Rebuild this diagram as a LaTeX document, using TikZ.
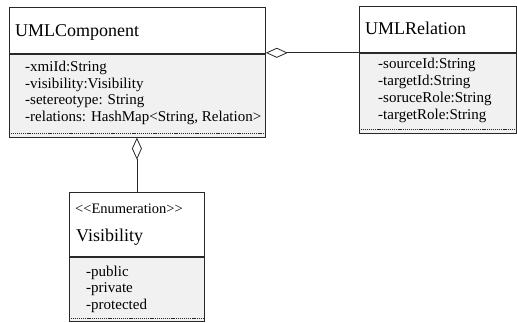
\documentclass[tikz,border=0pt]{standalone}
\usepackage{fontspec}
\setmainfont{Liberation Serif}
\usepackage{xcolor}
\usetikzlibrary{arrows.meta}
\usetikzlibrary{calc}
\usetikzlibrary{positioning}

\definecolor{bodyfill}{RGB}{241,241,241}
\definecolor{edge}{RGB}{40,40,40}

\newcommand{\titlefont}{\fontsize{18}{20}\selectfont}
\newcommand{\attrfont}{\fontsize{15}{17}\selectfont}
\newcommand{\stereofont}{\fontsize{14.5}{16}\selectfont}

\begin{document}
\begin{tikzpicture}[x=1pt, y=-1pt,
					headbox/.style={draw=edge, line width=0.8pt, fill=white, anchor=north west, inner sep=0pt},
					bodybox/.style={draw=edge, line width=0.8pt, fill=bodyfill, anchor=north west, inner sep=0pt},
					title/.style={anchor=base west, inner sep=0pt, font=\titlefont},
					attr/.style={anchor=base west, inner sep=0pt, font=\attrfont},
					dots/.style={line width=0.4pt, draw=edge, dash pattern=on 1.2pt off 0.9pt},
					aggr/.style={line width=0.8pt, draw=edge, -{Diamond[fill=white, length=22pt, width=10pt]}},
				]
			        \useasboundingbox (0,0) rectangle (517,322);

			        % UMLComponent
			        \node[headbox, minimum width=256pt, minimum height=46pt] (comp) at (9,7) {};
			        \node[bodybox, minimum width=256pt, minimum height=83pt] (compbody) at (comp.south west) {};
			        \node[title] (comptitle) at ($(comp.north west)+(6,29)$) {UMLComponent};
			        \foreach \t [count=\i] in {-xmiId:String, -visibility:Visibility, -setereotype: String, {-relations: HashMap{<}String, Relation{>}}}
			            \node[attr] (compattr\i) at ($(compbody.north west)+(16,1+16.6*\i)$) {\t};
			        \draw[dots] ($(compbody.south west)+(1.5,-4.5)$) -- ($(compbody.south east)+(-1.5,-4.5)$);

			        % UMLRelation
			        \node[headbox, minimum width=157pt, minimum height=46pt] (rel) at (359,6) {};
			        \node[bodybox, minimum width=157pt, minimum height=80pt] (relbody) at (rel.south west) {};
			        \node[title] (reltitle) at ($(rel.north west)+(6,28)$) {UMLRelation};
			        \foreach \t [count=\i] in {-sourceId:String, -targetId:String, -soruceRole:String, -targetRole:String}
			            \node[attr] (relattr\i) at ($(relbody.north west)+(19,-1.5+17*\i)$) {\t};
			        \draw[dots] ($(relbody.south west)+(1.5,-4)$) -- ($(relbody.south east)+(-1.5,-4)$);

			        % Visibility
			        \node[headbox, minimum width=135pt, minimum height=64pt] (vis) at (69,192) {};
			        \node[bodybox, minimum width=135pt, minimum height=64pt] (visbody) at (vis.south west) {};
			        \node[anchor=base west, inner sep=0pt, font=\stereofont] (visstereo) at ($(vis.north west)+(6,21)$) {{<}{<}Enumeration{>}{>}};
			        \node[title] (vistitle) at ($(vis.north west)+(7,49)$) {Visibility};
			        \foreach \t [count=\i] in {-public, -private, -protected}
			            \node[attr] (visattr\i) at ($(visbody.north west)+(17,3+16.5*\i)$) {\t};
			        \draw[dots] ($(visbody.south west)+(1.5,-3)$) -- ($(visbody.south east)+(-1.5,-3)$);

			        % aggregations
			        \draw[aggr] (rel.south west) -- (rel.south west -| comp.east);
			        \draw[aggr] (vis.north) -- (vis.north |- compbody.south);
			    \end{tikzpicture}
\end{document}
